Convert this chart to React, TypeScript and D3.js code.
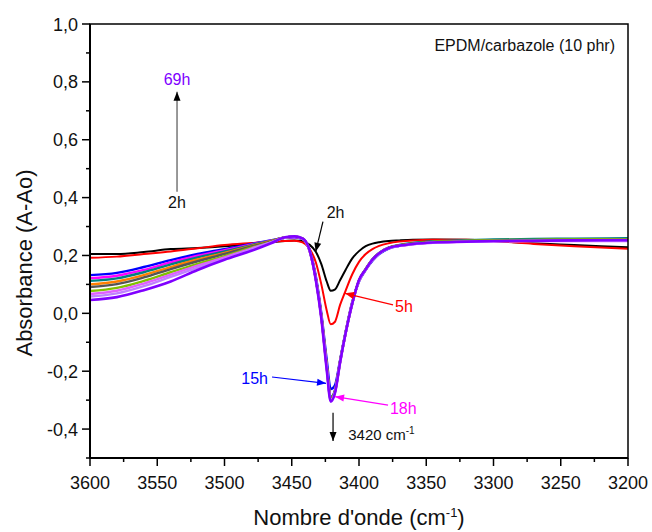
import React from "react";
import * as d3 from "d3";

const wavenumbers = [3600, 3580, 3560, 3540, 3520, 3500, 3480, 3465, 3455, 3448, 3442, 3437, 3432, 3428, 3424, 3421, 3418, 3414, 3410, 3405, 3400, 3395, 3390, 3385, 3378, 3370, 3360, 3345, 3320, 3300, 3270, 3240, 3200];

const s2h = [0.205, 0.205, 0.212, 0.222, 0.226, 0.232, 0.240, 0.246, 0.250, 0.252, 0.250, 0.238, 0.212, 0.170, 0.110, 0.078, 0.082, 0.115, 0.150, 0.190, 0.215, 0.232, 0.241, 0.246, 0.250, 0.252, 0.254, 0.255, 0.254, 0.250, 0.242, 0.236, 0.228];
const s5h = [0.192, 0.196, 0.205, 0.214, 0.225, 0.236, 0.243, 0.248, 0.250, 0.251, 0.245, 0.225, 0.175, 0.100, 0.010, -0.038, -0.030, 0.030, 0.078, 0.135, 0.178, 0.205, 0.222, 0.233, 0.242, 0.248, 0.252, 0.254, 0.254, 0.250, 0.240, 0.232, 0.223];
const s15h = [0.132, 0.140, 0.160, 0.184, 0.205, 0.222, 0.240, 0.253, 0.261, 0.263, 0.257, 0.222, 0.125, 0.000, -0.160, -0.262, -0.250, -0.160, -0.065, 0.040, 0.110, 0.150, 0.182, 0.205, 0.224, 0.233, 0.240, 0.245, 0.249, 0.251, 0.253, 0.254, 0.256];
const s18h = [0.121, 0.130, 0.150, 0.176, 0.199, 0.218, 0.238, 0.252, 0.262, 0.264, 0.257, 0.220, 0.115, -0.010, -0.180, -0.292, -0.270, -0.165, -0.070, 0.035, 0.112, 0.152, 0.185, 0.208, 0.226, 0.234, 0.240, 0.245, 0.248, 0.250, 0.251, 0.251, 0.252];
const s21h = [0.112, 0.121, 0.142, 0.169, 0.193, 0.214, 0.236, 0.251, 0.262, 0.265, 0.258, 0.221, 0.118, -0.008, -0.178, -0.290, -0.268, -0.163, -0.068, 0.036, 0.114, 0.154, 0.187, 0.209, 0.227, 0.236, 0.243, 0.249, 0.253, 0.255, 0.257, 0.258, 0.260];
const s24h = [0.100, 0.110, 0.132, 0.160, 0.186, 0.209, 0.233, 0.250, 0.262, 0.265, 0.258, 0.221, 0.117, -0.010, -0.182, -0.294, -0.271, -0.165, -0.068, 0.036, 0.114, 0.153, 0.186, 0.208, 0.226, 0.235, 0.241, 0.247, 0.250, 0.252, 0.253, 0.254, 0.255];
const s28h = [0.091, 0.101, 0.124, 0.153, 0.180, 0.205, 0.231, 0.249, 0.262, 0.265, 0.258, 0.221, 0.117, -0.011, -0.184, -0.296, -0.272, -0.166, -0.069, 0.035, 0.113, 0.152, 0.186, 0.208, 0.226, 0.235, 0.241, 0.246, 0.249, 0.251, 0.252, 0.253, 0.254];
const s35h = [0.077, 0.088, 0.112, 0.142, 0.171, 0.198, 0.227, 0.247, 0.262, 0.265, 0.258, 0.221, 0.116, -0.012, -0.186, -0.298, -0.274, -0.167, -0.069, 0.035, 0.113, 0.152, 0.186, 0.208, 0.226, 0.235, 0.241, 0.247, 0.250, 0.253, 0.254, 0.255, 0.256];
const s42h = [0.067, 0.078, 0.103, 0.134, 0.165, 0.193, 0.224, 0.246, 0.262, 0.265, 0.258, 0.220, 0.115, -0.013, -0.188, -0.300, -0.275, -0.168, -0.070, 0.034, 0.112, 0.151, 0.185, 0.207, 0.225, 0.233, 0.239, 0.244, 0.247, 0.249, 0.250, 0.250, 0.250];
const s52h = [0.058, 0.069, 0.094, 0.126, 0.158, 0.188, 0.221, 0.245, 0.262, 0.265, 0.258, 0.220, 0.114, -0.014, -0.190, -0.302, -0.276, -0.168, -0.070, 0.034, 0.112, 0.151, 0.185, 0.207, 0.225, 0.233, 0.239, 0.244, 0.247, 0.249, 0.250, 0.251, 0.251];
const s69h = [0.046, 0.056, 0.080, 0.110, 0.150, 0.185, 0.216, 0.243, 0.263, 0.266, 0.259, 0.222, 0.112, -0.018, -0.195, -0.305, -0.278, -0.168, -0.070, 0.034, 0.115, 0.152, 0.186, 0.208, 0.226, 0.234, 0.240, 0.245, 0.248, 0.250, 0.251, 0.252, 0.253];

const seriesValues = [s2h, s5h, s15h, s18h, s21h, s24h, s28h, s35h, s42h, s52h, s69h];
const seriesColors = ["#000000", "#ff0000", "#0000ff", "#ff00ff", "#008080", "#ff8000", "#555555", "#80c000", "#e060ff", "#c080ff", "#8000ff"];
const seriesWidths = [2, 2, 2.4, 2.4, 2.4, 2.4, 2.4, 2.4, 2.4, 2.4, 2.6];

const xTicks = [3600, 3550, 3500, 3450, 3400, 3350, 3300, 3250, 3200];
const xMinorTicks = [3575, 3525, 3475, 3425, 3375, 3325, 3275, 3225];
const yTicks = [1.0, 0.8, 0.6, 0.4, 0.2, 0.0, -0.2, -0.4];
const yMinorTicks = [0.9, 0.7, 0.5, 0.3, 0.1, -0.1, -0.3, -0.5];

const W = 652, H = 532;
const L = 90, R = 628, T = 24, B = 458;

function arrowHead(x1: number, y1: number, x2: number, y2: number, len = 9, half = 3.5) {
  const a = Math.atan2(y2 - y1, x2 - x1);
  const bx = x2 - len * Math.cos(a), by = y2 - len * Math.sin(a);
  const px = -Math.sin(a) * half, py = Math.cos(a) * half;
  return `M${x2},${y2}L${bx + px},${by + py}L${bx - px},${by - py}Z`;
}

export default function App() {
  const x = d3.scaleLinear().domain([3600, 3200]).range([L, R]);
  const y = d3.scaleLinear().domain([-0.5, 1.0]).range([B, T]);
  const line = d3.line<number>()
    .x((_, i) => x(wavenumbers[i]))
    .y((d) => y(d))
    .curve(d3.curveMonotoneX);
  const fmt = (v: number) => v.toFixed(1).replace(".", ",");
  const font = "'Liberation Sans', Arial, sans-serif";

  const arrows = [
    { x1: 3535.3, y1: 0.42, x2: 3535.3, y2: 0.766, color: "#555", head: "#000" },
    { x1: 3426.8, y1: 0.317, x2: 3432.2, y2: 0.213, color: "#000", head: "#000" },
    { x1: 3374.7, y1: 0.029, x2: 3410.4, y2: 0.069, color: "#ff0000", head: "#ff0000" },
    { x1: 3464.7, y1: -0.22, x2: 3424.5, y2: -0.242, color: "#0000ff", head: "#0000ff" },
    { x1: 3378.4, y1: -0.317, x2: 3417.8, y2: -0.288, color: "#ff00ff", head: "#ff00ff" },
    { x1: 3419.3, y1: -0.344, x2: 3419.3, y2: -0.441, color: "#000", head: "#000" },
  ];

  return (
    <svg width={W} height={H} style={{ position: "absolute", left: 0, top: 0, background: "#fff" }} fontFamily={font}>
      <rect x={0} y={0} width={W} height={H} fill="#fff" />
      <defs>
        <clipPath id="plot"><rect x={L} y={T} width={R - L} height={B - T} /></clipPath>
      </defs>
      <g clipPath="url(#plot)">
        {seriesValues.map((vals, i) => (
          <path key={i} d={line(vals) || ""} fill="none" stroke={seriesColors[i]} strokeWidth={seriesWidths[i]} strokeLinejoin="round" />
        ))}
      </g>
      {/* frame */}
      <rect x={L} y={T} width={R - L} height={B - T} fill="none" stroke="#000" strokeWidth={1.5} />
      <line x1={L} x2={L} y1={T} y2={B} stroke="#000" strokeWidth={2} />
      <line x1={L} x2={R} y1={B} y2={B} stroke="#000" strokeWidth={2} />
      {/* x axis ticks */}
      {xTicks.map((t) => (
        <g key={"xt" + t}>
          <line x1={x(t)} x2={x(t)} y1={B} y2={B + 8} stroke="#000" strokeWidth={1.5} />
          <text x={x(t)} y={489} fontSize={18} textAnchor="middle" fill="#111">{t}</text>
        </g>
      ))}
      {xMinorTicks.map((t) => (
        <line key={"xm" + t} x1={x(t)} x2={x(t)} y1={B} y2={B + 4} stroke="#000" strokeWidth={1.5} />
      ))}
      {yTicks.map((t) => (
        <g key={"yt" + t}>
          <line x1={L - 8} x2={L} y1={y(t)} y2={y(t)} stroke="#000" strokeWidth={1.5} />
          <text x={L - 12} y={y(t) + 6.5} fontSize={18} textAnchor="end" fill="#111">{fmt(t)}</text>
        </g>
      ))}
      {yMinorTicks.map((t) => (
        <line key={"ym" + t} x1={L - 4} x2={L} y1={y(t)} y2={y(t)} stroke="#000" strokeWidth={1.5} />
      ))}
      {/* axis titles */}
      <text x={(L + R) / 2} y={525} fontSize={22} textAnchor="middle" fill="#111">
        Nombre d'onde (cm<tspan dy={-8} fontSize={13}>-1</tspan><tspan dy={8}>)</tspan>
      </text>
      <text transform={`translate(32,${(T + B) / 2 + 22}) rotate(-90)`} fontSize={22} textAnchor="middle" fill="#111">Absorbance (A-Ao)</text>
      {/* annotations */}
      {arrows.map((a, i) => {
        const X1 = x(a.x1), Y1 = y(a.y1), X2 = x(a.x2), Y2 = y(a.y2);
        return (
          <g key={"ar" + i}>
            <line x1={X1} y1={Y1} x2={X2} y2={Y2} stroke={a.color} strokeWidth={1.2} />
            <path d={arrowHead(X1, Y1, X2, Y2)} fill={a.head} />
          </g>
        );
      })}
      <text x={x(3209.7)} y={y(0.907)} fontSize={16} textAnchor="end" fill="#111">EPDM/carbazole (10 phr)</text>
      <text x={x(3535.3)} y={y(0.79)} fontSize={16} textAnchor="middle" fill="#8000ff">69h</text>
      <text x={x(3535.3)} y={y(0.364)} fontSize={16} textAnchor="middle" fill="#111">2h</text>
      <text x={x(3424)} y={y(0.3295)} fontSize={16} textAnchor="start" fill="#111">2h</text>
      <text x={x(3373.2)} y={y(0.0056)} fontSize={16} textAnchor="start" fill="#ff0000">5h</text>
      <text x={x(3467.7)} y={y(-0.244)} fontSize={16} textAnchor="end" fill="#0000ff">15h</text>
      <text x={x(3377)} y={y(-0.348)} fontSize={16} textAnchor="start" fill="#ff00ff">18h</text>
      <text x={x(3408)} y={y(-0.438)} fontSize={15} textAnchor="start" fill="#111">
        3420 cm<tspan dy={-6} fontSize={10}>-1</tspan>
      </text>
    </svg>
  );
}
